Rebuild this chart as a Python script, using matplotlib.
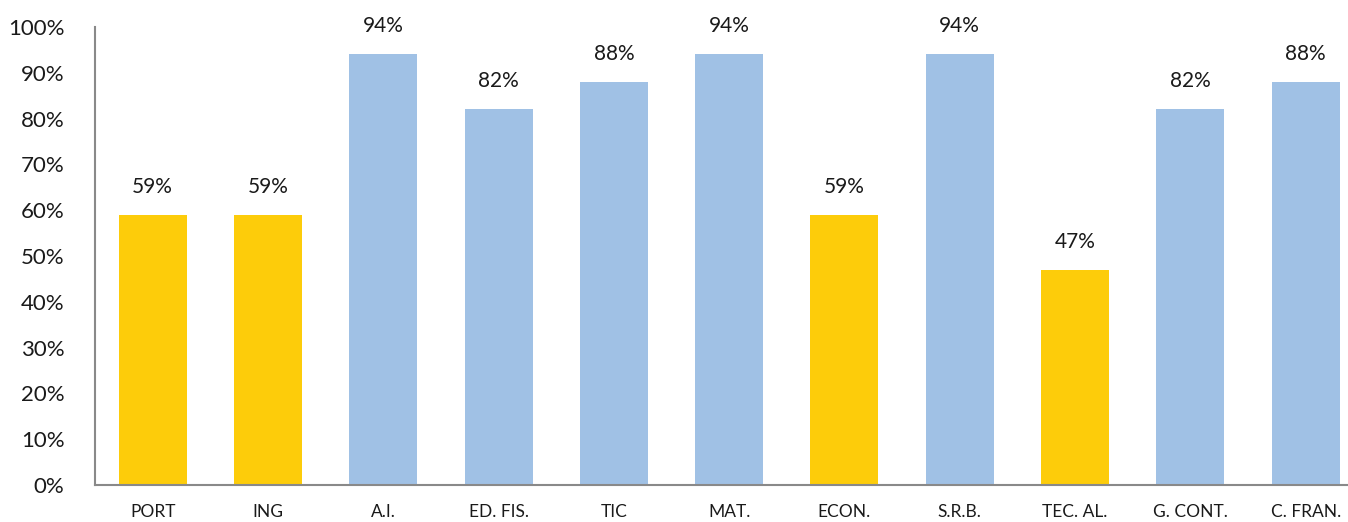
import matplotlib
matplotlib.use("Agg")
import matplotlib.pyplot as plt
from matplotlib.ticker import PercentFormatter

# data
subjects = ["PORT", "ING", "A.I.", "ED. FIS.", "TIC", "MAT.", "ECON.",
            "S.R.B.", "TEC. AL.", "G. CONT.", "C. FRAN."]
values = [59, 59, 94, 82, 88, 94, 59, 94, 47, 82, 88]
low_cut = 60  # below this the bar is yellow

yellow = "#FDCC0A"
blue = "#A0C1E5"

plt.rcParams["font.family"] = ["Lato", "DejaVu Sans"]

fig = plt.figure(figsize=(13.48, 5.22), dpi=100)
ax = fig.add_axes([95 / 1348, 37 / 522, 1 - 95 / 1348, (485 - 27) / 522])

colors = [yellow if v < low_cut else blue for v in values]
x = range(len(subjects))
bars = ax.bar(x, values, width=0.59, color=colors)

for b, v in zip(bars, values):
    ax.annotate(f"{v}%", (b.get_x() + b.get_width() / 2, v),
                xytext=(0, 13), textcoords="offset points",
                ha="center", va="bottom", fontsize=15, color="#1a1a1a")

ax.set_ylim(0, 100)
ax.set_xlim(-0.5, (1348 - 95) / 115.3 - 0.5)
ax.set_yticks(range(0, 101, 10))
ax.yaxis.set_major_formatter(PercentFormatter(decimals=0))
ax.set_xticks(list(x))
ax.set_xticklabels(subjects)
ax.tick_params(axis="y", length=0, labelsize=16, pad=22, colors="#1a1a1a")
ax.tick_params(axis="x", length=0, labelsize=12.5, pad=14, colors="#1a1a1a")

for s in ["top", "right"]:
    ax.spines[s].set_visible(False)
for s in ["left", "bottom"]:
    ax.spines[s].set_color("#898989")
    ax.spines[s].set_linewidth(1.5)

fig.savefig("out.png", dpi=100)
